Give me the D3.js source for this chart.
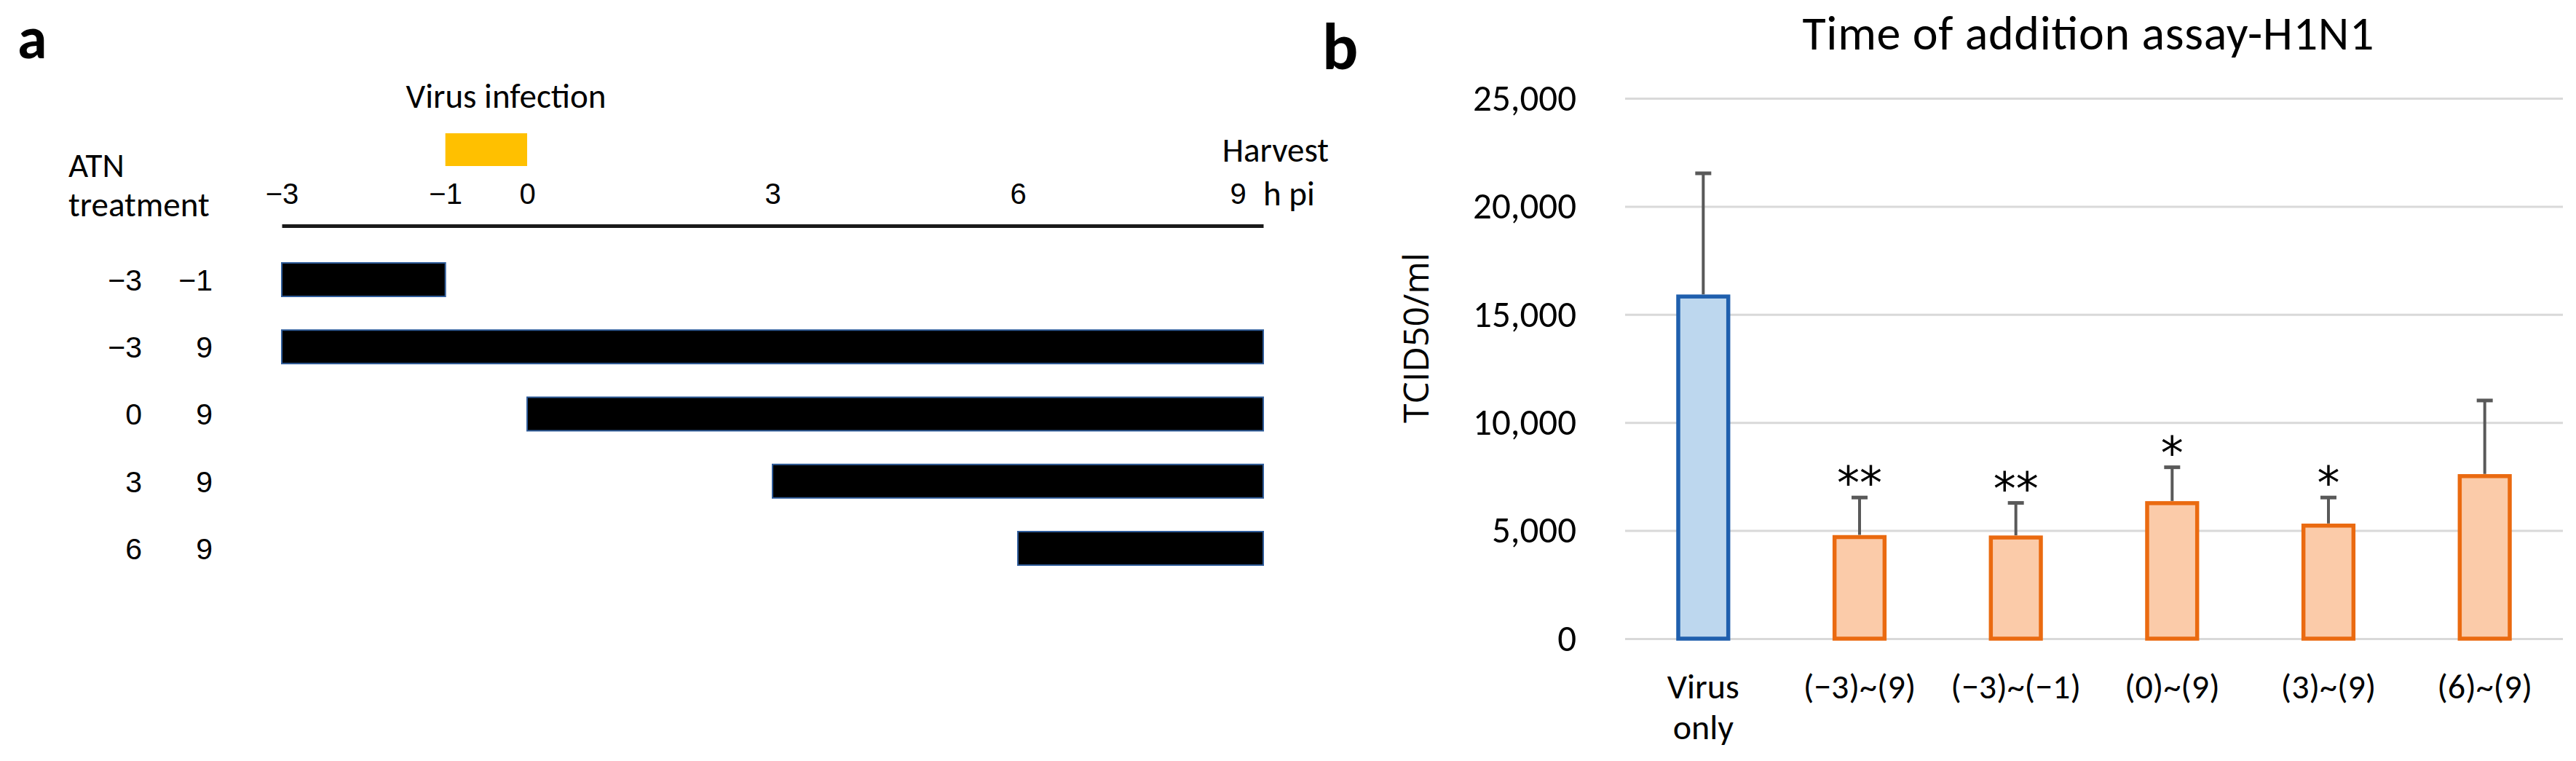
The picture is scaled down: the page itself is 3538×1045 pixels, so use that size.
<!DOCTYPE html>
<html>
<head>
<meta charset="utf-8">
<script src="https://cdn.jsdelivr.net/npm/d3@7"></script>
<style>
  html, body { margin: 0; padding: 0; background: #fff; }
  svg { display: block; }
</style>
</head>
<body>
<svg id="chart" width="3538" height="1045"></svg>
<script>
// ---------- Panel a data ----------
const timeTicks = [-3, -1, 0, 3, 6, 9];
const treatStart = [-3, -3, 0, 3, 6];
const treatEnd = [-1, 9, 9, 9, 9];
const infectionWindow = [-1, 0];

// ---------- Panel b data ----------
const groups = ["Virus only", "(−3)~(9)", "(−3)~(−1)", "(0)~(9)", "(3)~(9)", "(6)~(9)"];
const means = [15830, 4700, 4680, 6270, 5230, 7520];
const sds = [5700, 1830, 1600, 1660, 1300, 3500];
const significance = ["", "**", "**", "*", "*", ""];
const yTicks = [0, 5000, 10000, 15000, 20000, 25000];

const svg = d3.select("#chart");
svg.append("rect").attr("width", 3538).attr("height", 1045).attr("fill", "#fff");

const calibri = "Calibri, Carlito, Lato, sans-serif";
const arial = "Arial, 'Liberation Sans', sans-serif";
const fmtNum = d => d < 0 ? "\u2212" + Math.abs(d) : String(d);

// ================= PANEL A =================
const gA = svg.append("g");
gA.append("text").attr("x", 24).attr("y", 80).text("a")
  .attr("font-family", calibri).attr("font-weight", 700).attr("font-size", 82).attr("fill", "#000");

const xA = d3.scaleLinear().domain([-3, 9]).range([387, 1735]);
const rowY = d3.scalePoint().domain(d3.range(treatStart.length)).range([384, 753]);
const barH = 46;

// timeline axis
const axA = d3.axisTop(xA).tickValues(timeTicks).tickSize(0).tickSizeOuter(0).tickPadding(30).tickFormat(fmtNum);
const axAg = gA.append("g").attr("transform", "translate(0,310)").call(axA);
axAg.select(".domain").attr("stroke", "#1a1a1a").attr("stroke-width", 5);
axAg.selectAll("text").attr("font-family", arial).attr("font-size", 40).attr("fill", "#000");
axAg.selectAll(".tick").filter(d => d === 9).select("text").attr("dx", -35);

gA.append("text").attr("x", xA(9)).attr("y", 282).text("h pi")
  .attr("font-family", calibri).attr("font-size", 47).attr("fill", "#000");
gA.append("text").attr("x", xA(9) + 90).attr("y", 222).attr("text-anchor", "end").text("Harvest")
  .attr("font-family", calibri).attr("font-size", 47).attr("fill", "#000");

// infection window
gA.append("rect")
  .attr("x", xA(infectionWindow[0])).attr("width", xA(infectionWindow[1]) - xA(infectionWindow[0]))
  .attr("y", 183).attr("height", 45).attr("fill", "#FFC000");
gA.append("text").attr("x", 695).attr("y", 148).attr("text-anchor", "middle").text("Virus infection")
  .attr("font-family", calibri).attr("font-size", 47).attr("fill", "#000");

// ATN treatment label
const atn = gA.append("text").attr("font-family", calibri).attr("font-size", 47).attr("fill", "#000");
atn.append("tspan").attr("x", 94).attr("y", 243).text("ATN");
atn.append("tspan").attr("x", 94).attr("y", 297).text("treatment");

// treatment bars
gA.selectAll("rect.treat").data(treatStart).join("rect").attr("class", "treat")
  .attr("x", (d) => xA(d))
  .attr("width", (d, i) => xA(treatEnd[i]) - xA(d))
  .attr("y", (d, i) => rowY(i) - barH / 2)
  .attr("height", barH)
  .attr("fill", "#000").attr("stroke", "#2F5C9A").attr("stroke-width", 2);

// row labels
gA.selectAll("text.rs").data(treatStart).join("text").attr("class", "rs")
  .attr("x", 195).attr("y", (d, i) => rowY(i)).attr("dy", "0.36em")
  .attr("text-anchor", "end").text(fmtNum)
  .attr("font-family", arial).attr("font-size", 41).attr("fill", "#000");
gA.selectAll("text.re").data(treatEnd).join("text").attr("class", "re")
  .attr("x", 292).attr("y", (d, i) => rowY(i)).attr("dy", "0.36em")
  .attr("text-anchor", "end").text(fmtNum)
  .attr("font-family", arial).attr("font-size", 41).attr("fill", "#000");

// ================= PANEL B =================
const gB = svg.append("g");
gB.append("text").attr("x", 1816).attr("y", 95).text("b")
  .attr("font-family", calibri).attr("font-weight", 700).attr("font-size", 92).attr("fill", "#000");

gB.append("text").attr("x", 2868).attr("y", 68).attr("text-anchor", "middle")
  .text("Time of addition assay-H1N1")
  .attr("textLength", 785).attr("lengthAdjust", "spacing")
  .attr("font-family", calibri).attr("font-size", 66).attr("fill", "#000");

const xB = d3.scaleBand().domain(groups).range([2232, 3520]).padding(0);
const yB = d3.scaleLinear().domain([0, 25000]).range([877, 135]);
const barW = xB.bandwidth() * 0.32;

// y axis with gridlines
const axY = d3.axisLeft(yB).tickValues(yTicks).tickFormat(d3.format(","))
  .tickSizeInner(-(xB.range()[1] - xB.range()[0])).tickSizeOuter(0).tickPadding(67);
const axYg = gB.append("g").attr("transform", `translate(${xB.range()[0]},0)`).call(axY);
axYg.select(".domain").remove();
axYg.selectAll(".tick line").attr("stroke", "#D9D9D9").attr("stroke-width", 3);
axYg.selectAll(".tick text").attr("font-family", calibri).attr("font-size", 51).attr("fill", "#000");

// y label
gB.append("text").attr("transform", "translate(1945,464) rotate(-90)")
  .attr("text-anchor", "middle").attr("dy", "0.35em").text("TCID50/ml")
  .attr("font-family", "'Open Sans', 'Noto Sans', sans-serif").attr("font-size", 48).attr("fill", "#000");

// x axis labels
const axX = d3.axisBottom(xB).tickSize(0).tickPadding(0);
const axXg = gB.append("g").attr("transform", "translate(0,877)").call(axX);
axXg.select(".domain").remove();
axXg.selectAll(".tick text").each(function(d) {
  const t = d3.select(this);
  t.text(null).attr("y", 0).attr("dy", null)
    .attr("font-family", calibri).attr("font-size", 48).attr("fill", "#000");
  d.split(" ").forEach((w, i) => {
    t.append("tspan").attr("x", 0).attr("y", 82 + i * 56).text(w);
  });
});

// bars
gB.selectAll("rect.bar").data(groups).join("rect").attr("class", "bar")
  .attr("x", d => xB(d) + xB.bandwidth() / 2 - barW / 2)
  .attr("width", barW)
  .attr("y", (d, i) => yB(means[i]))
  .attr("height", (d, i) => yB(0) - yB(means[i]))
  .attr("fill", (d, i) => i === 0 ? "#BDD7EE" : "#FBCBA9")
  .attr("stroke", (d, i) => i === 0 ? "#1F5FAD" : "#EA6A10")
  .attr("stroke-width", 5.5);

// error bars
const cx = d => xB(d) + xB.bandwidth() / 2;
gB.selectAll("line.err").data(groups).join("line").attr("class", "err")
  .attr("x1", cx).attr("x2", cx)
  .attr("y1", (d, i) => yB(means[i]) - 3)
  .attr("y2", (d, i) => yB(means[i] + sds[i]))
  .attr("stroke", "#595959").attr("stroke-width", 4);
gB.selectAll("line.cap").data(groups).join("line").attr("class", "cap")
  .attr("x1", d => cx(d) - 11).attr("x2", d => cx(d) + 11)
  .attr("y1", (d, i) => yB(means[i] + sds[i]))
  .attr("y2", (d, i) => yB(means[i] + sds[i]))
  .attr("stroke", "#595959").attr("stroke-width", 5);

// significance stars
gB.selectAll("text.sig").data(groups).join("text").attr("class", "sig")
  .attr("x", cx)
  .attr("y", (d, i) => yB(means[i] + sds[i]) + 2)
  .attr("text-anchor", "middle")
  .text((d, i) => significance[i])
  .attr("font-family", "'DejaVu Sans', sans-serif").attr("font-size", 62).attr("fill", "#000");
</script>
</body>
</html>
